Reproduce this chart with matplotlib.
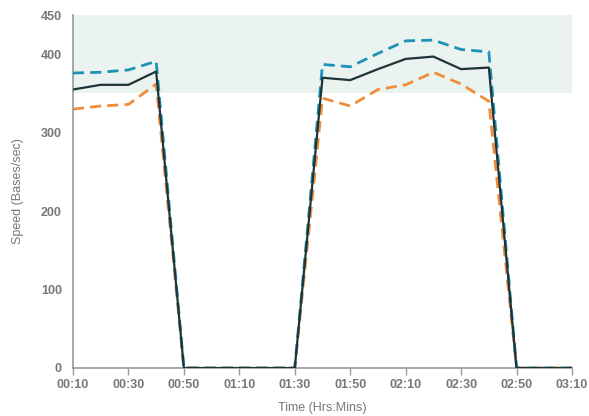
import matplotlib
matplotlib.use("Agg")
import matplotlib.pyplot as plt

minutes = [10, 20, 30, 40, 50, 60, 70, 80, 90, 100, 110, 120, 130, 140, 150, 160, 170, 180, 190]
black = [355, 361, 361, 378, 0, 0, 0, 0, 0, 370, 367, 381, 394, 397, 381, 383, 0, 0, 0]
blue = [376, 377, 380, 391, 0, 0, 0, 0, 0, 387, 384, 401, 417, 418, 406, 403, 0, 0, 0]
orange = [330, 334, 336, 362, 0, 0, 0, 0, 0, 344, 334, 355, 361, 377, 362, 340, 0, 0, 0]
xticks = [10, 30, 50, 70, 90, 110, 130, 150, 170, 190]
xticklabels = ["00:10", "00:30", "00:50", "01:10", "01:30", "01:50", "02:10", "02:30", "02:50", "03:10"]
yticks = [0, 100, 200, 300, 400, 450]
band = (350, 450)

plt.rcParams['font.family'] = ['Liberation Sans', 'DejaVu Sans']
gray = '#777777'
fig = plt.figure(figsize=(5.89, 4.16), dpi=100)
ax = fig.add_axes([73/589, 1-368/416, (572-73)/589, (368-15)/416])
ax.axhspan(band[0], band[1], color='#eaf3f0', zorder=0, lw=0)
ax.plot(minutes, blue, color='#1c93b6', lw=2, ls=(0, (4, 2.2)), zorder=3)
ax.plot(minutes, orange, color='#f08c3a', lw=2, ls=(0, (4, 2.2)), zorder=2)
ax.plot(minutes, black, color='#1e3438', lw=1.6, zorder=4)
ax.set_xlim(10, 190)
ax.set_ylim(0, 450)
ax.set_xticks(xticks)
ax.set_xticklabels(xticklabels)
ax.set_yticks(yticks)
for s in ['top', 'right']:
    ax.spines[s].set_visible(False)
for s in ['left', 'bottom']:
    ax.spines[s].set_color('#999999')
    ax.spines[s].set_linewidth(1.2)
ax.tick_params(axis='x', colors='#999999', length=5, width=1, labelcolor=gray, labelsize=9, pad=3)
ax.tick_params(axis='y', length=0, labelcolor=gray, labelsize=9, pad=8)
for lab in ax.get_xticklabels() + ax.get_yticklabels():
    lab.set_fontweight('bold')
ax.set_xlabel('Time (Hrs:Mins)', color=gray, fontsize=9, labelpad=8)
ax.set_ylabel('Speed (Bases/sec)', color=gray, fontsize=9, labelpad=12)
fig.savefig('out.png', dpi=100)
